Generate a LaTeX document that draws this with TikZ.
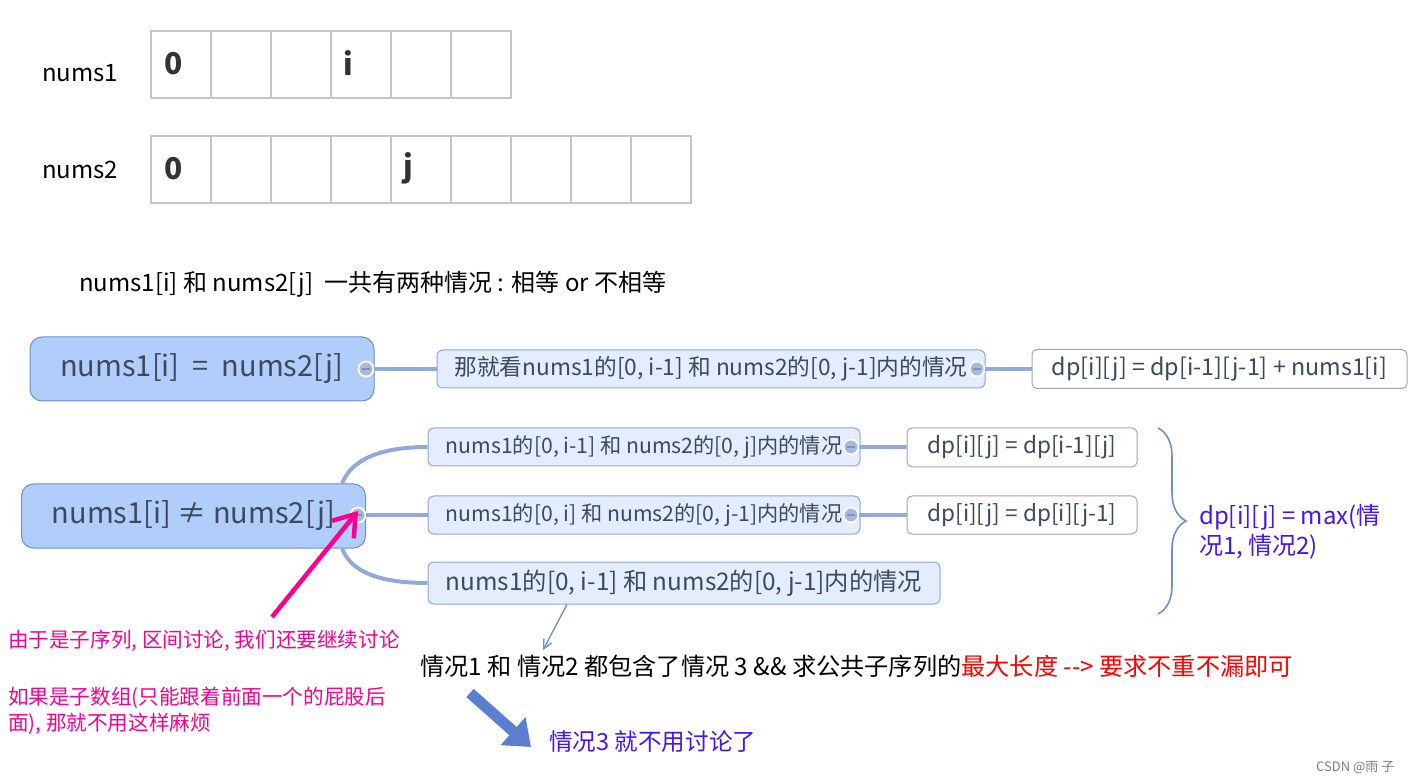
\documentclass[tikz,border=0pt]{standalone}
\usepackage{fontspec}
\setmainfont{Noto Sans CJK SC}
\usepackage{xcolor}
\usepackage{tikz}
\usetikzlibrary{positioning, arrows.meta, shapes, calc, decorations.pathreplacing}

\definecolor{topicfill}{HTML}{B1CDFB}
\definecolor{topicline}{HTML}{6A8FD8}
\definecolor{subfill}{HTML}{E3EDFD}
\definecolor{subline}{HTML}{8EA6DC}
\definecolor{branch}{HTML}{94A9D9}
\definecolor{foldfill}{HTML}{A9B8DD}
\definecolor{foldbar}{HTML}{7F8FBF}
\definecolor{mmtext}{HTML}{3D4A5D}
\definecolor{hotpink}{RGB}{250,0,140}
\definecolor{casepurple}{RGB}{70,20,240}
\definecolor{fatblue}{HTML}{5B7FCE}

\begin{document}
\begin{tikzpicture}[
    x=1pt, y=-1pt,
    cell/.style={rectangle, draw=gray!45, line width=1.2pt, minimum width=60pt, minimum height=67pt, inner sep=0pt},
    idx/.style={font=\fontsize{30}{30}\selectfont\bfseries, text=black!80, inner sep=0pt, anchor=west},
    plain/.style={anchor=west, inner sep=0pt, font=\fontsize{24}{28}\selectfont},
    topicbox/.style={rectangle, rounded corners=12pt, draw=topicline, fill=topicfill, line width=1pt, text=mmtext, font=\fontsize{29}{36}\selectfont, minimum width=344pt, minimum height=64pt, inner sep=0pt},
    subbox/.style={rectangle, rounded corners=6pt, draw=subline, fill=subfill, line width=1pt, text=mmtext, minimum height=38pt, inner sep=0pt},
    leafbox/.style={rectangle, rounded corners=5pt, draw=gray!70, fill=white, line width=1pt, text=mmtext, minimum height=39pt, inner sep=0pt},
    branchline/.style={draw=branch, line width=4pt},
    fold/.style={circle, draw=white, line width=1.8pt, fill=foldfill, minimum size=15pt, inner sep=0pt,
        path picture={\draw[foldbar, line width=2pt] ([xshift=-4pt]path picture bounding box.center) -- ([xshift=4pt]path picture bounding box.center);}},
    note/.style={anchor=west, inner sep=0pt, text=hotpink, font=\fontsize{20.6}{26}\selectfont, align=left}
]
\useasboundingbox[fill=white] (0,0) rectangle (1409,783);

% Arrays
\foreach \k in {0,...,5}
    \node[cell] (a\k) at (181+60*\k, 64.5) {};
\foreach \k in {0,...,8}
    \node[cell] (b\k) at (181+60*\k, 169.5) {};
\node[plain] (lbl1) at (42,73) {nums1};
\node[plain] (lbl2) at (42,170) {nums2};
\node[idx] (zero1) at ([xshift=14pt, yshift=1pt]a0.west) {0};
\node[idx] (ii) at ([xshift=13pt, yshift=1pt]a3.west) {i};
\node[idx] (zero2) at ([xshift=14pt, yshift=1pt]b0.west) {0};
\node[idx] (jj) at ([xshift=13pt, yshift=1pt]b4.west) {j};

\node[plain] (title) at (79,284) {nums1[i] 和 nums2[j]\ \ 一共有两种情况 : 相等 or 不相等};

% Equal case
\node[topicbox] (eq) at (202,369) {nums1[i]\ \ =\ \ nums2[j]};
\node[subbox, minimum width=548pt, font=\fontsize{22.7}{28}\selectfont] (eqsub) at (711,369) {那就看nums1的[0, i-1] 和 nums2的[0, j-1]内的情况};
\node[leafbox, minimum width=375pt, font=\fontsize{23.3}{28}\selectfont] (eqdp) at (1219.5,369) {dp[i][j]\ =\ dp[i-1][j-1]\ +\ nums1[i]};
\node[fold] (eqfold) at (366,369) {};
\node[fold] (eqsubfold) at (977,369) {};
\draw[branchline] (eqfold) -- (eqsub);
\draw[branchline] (eqsubfold) -- (eqdp);

% Unequal case
\node[topicbox] (neq) at (193.5,516) {nums1[i] ≠ nums2[j]};
\node[subbox, minimum width=432pt, font=\fontsize{21.2}{26}\selectfont] (case1) at (644,447) {nums1的[0, i-1] 和 nums2的[0, j]内的情况};
\node[subbox, minimum width=432pt, font=\fontsize{21.2}{26}\selectfont] (case2) at (644,515) {nums1的[0, i] 和 nums2的[0, j-1]内的情况};
\node[subbox, minimum width=512pt, minimum height=42pt, font=\fontsize{24.3}{30}\selectfont] (case3) at (684,583) {nums1的[0, i-1] 和 nums2的[0, j-1]内的情况};
\node[leafbox, minimum width=230pt, font=\fontsize{22.6}{28}\selectfont] (dp1) at (1022,447.5) {dp[i][j]\ =\ dp[i-1][j]};
\node[leafbox, minimum width=230pt, minimum height=38pt, font=\fontsize{22.6}{28}\selectfont] (dp2) at (1022,515) {dp[i][j]\ =\ dp[i][j-1]};
\node[fold] (neqfold) at (358,515) {};
\node[fold] (c1fold) at (851,447) {};
\node[fold] (c2fold) at (851,515) {};

\draw[branchline] ([xshift=-24pt]neq.north east) .. controls +(10,-25) and +(-45,0) .. (case1.west);
\draw[branchline] (neqfold) -- (case2);
\draw[branchline] ([xshift=-24pt]neq.south east) .. controls +(10,25) and +(-45,0) .. (case3.west);
\draw[branchline] (c1fold) -- (dp1);
\draw[branchline] (c2fold) -- (dp2);

% Brace and max
\draw[decorate, decoration={brace, amplitude=28pt}, draw=topicline, line width=1.6pt] (1158,428) -- (1158,614);
\node[anchor=west, inner sep=0pt, text=casepurple, align=left, font=\fontsize{24}{30}\selectfont] (maxtxt) at (1199,532) {dp[i][j] = max(情\\况1, 情况2)};

% Notes
\node[plain, font=\fontsize{24.2}{28}\selectfont] (both) at (420,666) {情况1 和 情况2 都包含了情况 3 \&\& 求公共子序列的\textcolor{red}{最大长度 -{}-> 要求不重不漏即可}};
\coordinate (bothtip) at (543,650);
\draw[-{Straight Barb[length=9pt, width=9pt]}, draw=topicline, line width=1.3pt] ([xshift=-117pt]case3.south) -- (bothtip);

\node[note] (why) at (8,641) {由于是子序列, 区间讨论, 我们还要继续讨论};
\node[note] (subarr) at (8,711) {如果是子数组(只能跟着前面一个的屁股后\\面), 那就不用这样麻烦};
\coordinate (pinkstart) at (272,617);
\draw[-{Straight Barb[length=20pt, width=28pt]}, draw=hotpink, line width=4.5pt] (pinkstart) -- ([yshift=4pt]neqfold.center);

\node[plain, text=casepurple, font=\fontsize{23.6}{28}\selectfont] (skip) at (549,742) {情况3 就不用讨论了};
\coordinate (fatstart) at (470,693);
\coordinate (fatend) at (531,747);
\draw[-{Triangle[length=24pt, width=36pt]}, draw=fatblue, line width=11pt] (fatstart) -- (fatend);

\node[plain, text=gray, font=\fontsize{13}{15}\selectfont] (credit) at (1316,768) {CSDN @雨 子};
\end{tikzpicture}
\end{document}
